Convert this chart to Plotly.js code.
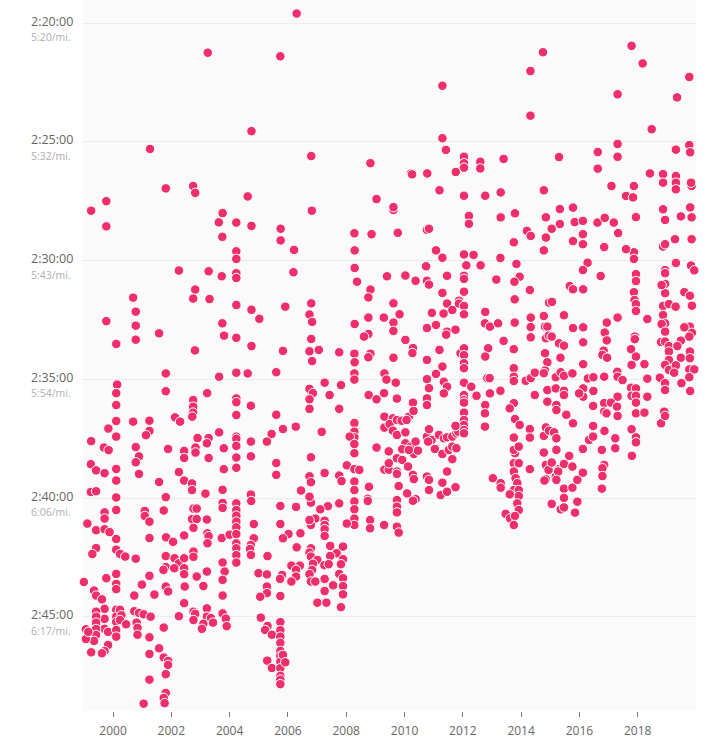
<!DOCTYPE html>
<html>
<head>
<meta charset="utf-8">
<script src="https://cdn.plot.ly/plotly-3.0.1.min.js"></script>
<style>
  html, body { margin: 0; padding: 0; background: #fff; }
  #chart { width: 711px; height: 741px; }
</style>
</head>
<body>
<div id="chart"></div>
<script>
// each race: [date as decimal year, finish time in minutes past 2:00:00]
var races1999to2004 = [
  [2003.25,21.25],[2001.27,25.3],
  [2001.81,26.96],[2002.75,26.86],[2002.82,27.15],[1999.77,27.5],[1999.25,27.9],[1999.77,28.56],[2003.76,28.0],[2003.63,28.39],[2004.23,28.4],[2003.75,29.0],[2004.23,29.61],[2004.23,29.93],
  [2002.26,30.42],[2003.28,30.45],[2003.73,30.66],[2004.23,30.53],[2004.23,30.73],[2002.82,31.22],[2002.75,31.6],[2003.31,31.62],[2000.69,31.56],[2000.78,32.15],[2000.78,32.74],[2000.78,33.33],[1999.77,32.55],[2000.11,33.51],[2001.58,33.06],[2002.81,33.78],[2004.23,31.87],[2003.75,32.64],[2003.81,33.16],[2004.23,33.25],
  [2001.81,34.75],[2001.81,35.5],[2003.64,34.89],[2004.23,34.72],[2000.14,35.22],[2000.11,35.58],[2000.11,36.08],[2000.11,36.75],[2000.11,37.41],[1999.84,37.07],[2000.69,36.78],[2001.25,36.74],[2001.25,37.17],[2001.13,37.35],[2002.13,36.6],[2002.3,36.78],[2002.75,35.87],[2002.75,36.15],[2002.75,36.4],[2002.72,36.57],[2003.23,35.58],[2003.64,37.23],[2004.23,35.8],[2004.23,35.96],[2004.23,36.5],[2002.9,37.47],[2003.28,37.47],[1999.25,37.6],[2004.23,37.41],[2004.23,37.5],
  [1999.0,43.53],[1999.12,41.07],[1999.24,38.57],[1999.42,38.83],[1999.24,39.74],[1999.42,39.71],[1999.71,38.95],[1999.71,40.6],[1999.71,40.86],[1999.42,41.35],[1999.71,41.31],[1999.88,41.43],[1999.42,42.1],[1999.29,42.35],[1999.69,37.87],[1999.85,37.98],
  [2000.11,38.77],[2000.11,39.26],[2000.11,39.97],[2000.11,40.5],[2000.11,41.72],[2000.11,42.17],[2000.24,42.35],[2000.42,42.46],[2000.78,42.55],[2000.11,43.19],[2000.11,43.61],[2000.11,43.83],[1999.77,43.37],[1999.35,43.89],[1999.42,44.1],[1999.62,44.26],
  [1999.71,44.66],[1999.71,45.08],[1999.71,45.5],[1999.83,45.63],[1999.83,46.18],[1999.71,46.44],[1999.62,46.53],[1999.42,44.78],[1999.42,44.99],[1999.42,45.24],[1999.42,45.51],[1999.42,45.76],[1999.35,46.01],[1999.25,46.49],[1999.07,45.52],[1999.07,45.93],[1999.15,45.63],
  [2000.11,44.7],[2000.11,44.99],[2000.11,45.21],[2000.11,45.55],[2000.11,45.83],[2000.24,44.7],[2000.29,44.93],[2000.24,45.13],[2000.45,45.31],
  [2000.78,37.85],[2000.89,38.24],[2000.78,38.49],[2000.89,38.98],[2001.09,40.54],[2001.09,40.75],[2001.25,40.99],[2001.25,41.68],[2001.58,39.32],[2001.81,39.96],[2001.74,40.52],[2001.25,43.27],[2000.99,43.64],[2000.73,44.1],[2001.42,44.06],[2001.81,43.72],[2001.89,43.93],
  [2000.73,44.76],[2000.89,44.83],[2001.05,44.89],[2001.29,44.99],[2000.81,45.24],[2000.84,45.46],[2000.84,45.75],[2001.25,45.86],[2001.74,45.45],[2001.25,46.56],[2001.58,46.32],[2001.74,46.71],[2001.89,46.85],[2001.89,47.02],[2001.81,47.41],[2001.25,47.64],[2001.81,48.2],[2001.74,48.41],[2001.77,48.63],[2001.05,48.65],
  [2001.89,37.93],[2002.26,38.9],[2002.44,38.01],[2002.44,38.31],[2002.83,37.87],[2003.22,37.69],[2002.83,38.08],[2003.28,38.31],[2002.44,39.26],[2002.71,39.38],[2002.71,39.66],[2003.17,39.81],[2002.76,40.44],[2002.87,40.44],[2002.71,40.88],[2002.87,40.88],[2002.76,41.25],[2003.22,40.9],
  [2002.44,41.57],[2001.82,41.65],[2002.06,41.84],[2001.81,42.44],[2002.11,42.53],[2002.26,42.74],[2002.44,42.53],[2001.81,42.9],[2001.73,43.02],[2002.1,42.95],[2002.44,42.95],[2002.44,43.2],[2002.76,42.25],[2002.76,42.47],[2003.24,41.48],[2003.28,41.6],[2003.24,41.9],[2003.73,41.68],[2004.0,41.54],
  [2004.23,40.22],[2004.23,40.5],[2004.23,40.74],[2004.23,40.99],[2004.23,41.23],[2004.23,41.51],[2004.23,41.9],[2004.23,42.11],[2004.23,42.4],[2004.23,42.71],[2004.23,37.8],[2004.23,38.29],[2004.23,38.72],
  [2003.8,37.9],[2003.8,38.78],[2003.76,39.65],[2003.76,40.2],[2003.76,40.41],[2003.76,42.71],[2003.83,43.09],[2003.76,43.44],[2003.76,44.1],[2002.87,43.3],[2003.1,43.7],[2003.22,43.09],[2002.46,43.72],[2002.44,44.42],[2002.26,44.97],
  [2002.76,44.78],[2002.82,44.87],[2002.76,45.13],[2003.22,44.64],[2003.22,44.99],[2003.36,45.05],[2003.43,45.24],[2003.1,45.29],[2003.05,45.5],[2003.76,44.85],[2003.87,45.07],[2003.9,45.39]
];

var races2004to2009 = [
  [2005.74,21.4],[2006.3,19.6],[2004.75,24.55],[2006.8,25.6],[2008.83,25.9],
  [2004.62,27.3],[2004.75,28.54],[2005.75,28.66],[2005.75,29.15],[2006.82,27.9],[2006.21,29.55],[2008.28,28.85],[2008.29,29.57],[2004.75,32.07],[2005.02,32.45],[2004.75,33.6],[2005.83,33.8],[2005.91,31.94],[2006.8,31.8],[2006.74,32.27],[2006.83,32.58],[2006.8,33.3],[2006.74,33.82],[2007.06,33.76],[2006.83,34.23],[2007.76,33.86],[2008.28,33.92],[2008.29,34.28],[2008.29,32.67],[2008.29,30.31],[2008.37,30.89],[2006.19,30.49],
  [2009.04,27.41],[2009.62,27.87],[2009.62,27.75],[2009.77,28.83],[2008.87,28.89],[2008.83,31.22],[2008.76,31.55],[2009.4,30.66],[2008.76,32.4],[2009.29,32.4],[2008.76,33.09],[2008.61,33.2],[2009.62,31.8],[2009.62,32.61],[2009.62,32.96],[2008.83,33.92],[2008.76,34.07],[2009.62,34.09],
  [2004.62,34.75],[2005.6,34.7],[2008.28,34.75],[2008.28,35.01],[2009.31,34.75],[2009.38,35.01],[2009.7,35.14],[2007.26,35.14],[2006.74,35.4],[2006.86,35.58],[2006.74,35.84],[2007.43,35.66],[2007.82,35.24],[2004.73,36.11],[2006.74,36.24],[2007.76,36.24],[2008.77,35.66],[2009.04,35.84],[2009.3,35.58],
  [2005.6,36.49],[2006.27,36.99],[2005.83,37.09],[2005.44,37.3],[2007.16,37.21],[2008.28,36.84],[2008.28,37.2],[2008.28,37.44],[2008.12,37.41],[2009.31,36.57],[2009.6,36.64],[2009.31,37.03],[2009.49,36.88],[2009.6,37.16],
  [2004.73,37.62],[2004.73,38.24],[2005.28,37.62],[2005.6,38.52],[2005.6,39.02],[2006.79,38.28],[2007.26,38.94],[2006.74,39.08],[2006.79,39.33],[2006.45,39.68],[2007.76,39.05],[2007.84,39.28],[2008.02,38.62],[2008.28,37.72],[2008.28,38.11],[2008.28,38.78],[2008.45,38.81],[2008.28,39.3],[2008.28,39.66],[2008.78,39.52],
  [2009.04,37.87],[2009.46,38.03],[2009.31,38.8],[2009.46,38.8],[2009.46,38.53],[2008.74,40.03],[2008.74,40.12],[2008.28,40.14],[2008.28,40.47],[2008.28,40.86],[2008.28,41.13],[2008.02,41.07],[2008.82,40.92],[2008.82,41.27],[2009.3,41.13],
  [2007.76,40.22],[2007.37,40.34],[2007.11,40.47],[2006.79,40.19],[2006.74,39.94],[2006.28,40.37],[2005.74,40.33],[2004.73,39.85],[2004.74,40.12],[2006.94,40.86],[2006.79,41.13],[2006.74,40.92],[2007.26,40.95],[2007.26,41.13],[2007.26,41.31],[2007.26,41.59],
  [2004.83,41.09],[2005.74,41.09],[2006.43,41.48],[2006.02,41.51],[2005.83,41.69],[2004.83,41.69],[2004.73,41.97],[2004.7,42.14],[2004.73,42.39],[2005.3,42.44],[2006.3,42.07],[2006.79,42.11],[2006.74,42.29],[2006.79,42.46],
  [2007.45,42.01],[2007.89,42.04],[2007.67,42.32],[2007.45,42.43],[2007.89,42.57],[2007.82,42.78],[2007.01,42.6],[2006.86,42.76],[2006.83,43.02],[2007.25,42.82],[2007.4,42.78],[2006.41,42.84],[2006.12,42.84],[2006.28,43.02],[2006.28,43.3],[2006.12,43.51],[2005.8,43.23],[2005.73,43.4],
  [2006.74,43.2],[2006.79,43.51],[2006.94,43.51],[2007.26,43.4],[2007.26,43.91],[2007.55,43.67],[2007.76,43.19],[2007.89,43.37],[2007.89,43.7],[2007.89,44.05],[2007.01,44.4],[2007.32,44.4],[2007.82,44.59],
  [2004.99,43.16],[2005.28,43.21],[2005.28,43.72],[2005.28,44.0],[2005.05,44.15],[2005.74,44.12],[2005.07,45.03],[2005.3,45.38],[2005.22,45.55],[2005.45,45.75],[2005.29,46.84],[2005.45,47.15],
  [2005.74,45.22],[2005.74,45.56],[2005.74,45.83],[2005.74,46.09],[2005.74,46.43],[2005.74,46.64],[2005.74,46.88],[2005.74,47.16],[2005.74,47.48],[2005.74,47.64],[2005.74,47.83],[2005.83,46.6],[2005.91,46.91]
];

var races2009to2014 = [
  [2011.3,22.64],[2014.32,22.02],[2014.75,21.23],[2014.32,23.9],[2011.3,24.85],[2011.42,25.34],[2012.04,25.63],[2012.04,25.9],[2012.04,26.09],[2012.6,25.84],[2012.6,26.12],[2013.4,25.72],[2011.76,26.27],[2010.22,26.33],[2010.26,26.37],[2010.78,26.33],
  [2011.2,27.04],[2012.04,27.27],[2012.77,27.27],[2013.3,27.13],[2014.78,27.04],[2012.21,28.12],[2012.21,28.45],[2013.3,28.18],[2013.79,28.01],[2014.85,28.18],[2013.75,29.23],[2014.2,28.75],[2014.33,28.96],[2014.85,29.03],[2014.78,29.57],
  [2011.08,29.57],[2011.3,29.88],[2012.04,29.74],[2012.37,29.76],[2010.74,30.24],[2012.61,30.2],[2013.29,29.89],[2013.84,30.14],[2010.77,28.71],[2010.84,28.66],
  [2012.12,30.2],[2010.03,30.63],[2010.38,30.85],[2010.77,30.85],[2010.84,31.01],[2011.46,30.64],[2012.04,30.64],[2012.04,30.77],[2013.15,30.8],[2013.95,30.68],[2013.77,30.89],[2014.3,31.24],[2014.96,31.77],[2011.3,31.36],[2012.04,31.31],
  [2009.83,32.26],[2011.46,31.81],[2011.87,31.69],[2011.87,31.81],[2011.64,32.08],[2012.04,31.91],[2012.04,32.26],[2011.34,32.23],[2010.94,32.2],[2012.77,32.16],[2013.78,31.63],[2012.76,32.64],[2012.93,32.78],[2013.21,32.64],[2013.78,32.61],
  [2011.08,32.71],[2010.77,32.84],[2011.46,32.99],[2011.43,33.12],[2011.75,32.91],[2014.33,32.4],[2014.33,32.8],[2014.33,33.23],[2014.78,32.33],[2014.82,32.78],[2014.9,32.78],[2014.85,33.27],[2014.95,33.16],
  [2010.03,33.34],[2010.29,33.68],[2010.27,33.89],[2011.2,33.76],[2011.92,33.9],[2012.04,33.69],[2012.04,33.98],[2012.04,34.32],[2012.04,34.53],[2012.87,33.69],[2012.77,34.04],[2013.4,33.38],[2013.75,33.73],[2010.77,34.18],[2011.3,34.46],[2011.08,34.77],
  [2013.75,34.53],[2013.75,34.89],[2013.75,35.07],[2014.16,35.06],[2014.33,34.95],[2014.47,34.72],[2014.82,33.9],[2014.9,34.28],[2014.82,34.63],[2014.78,34.74],
  [2009.74,35.81],[2010.29,35.98],[2010.77,34.99],[2010.84,35.37],[2010.77,35.8],[2010.77,36.08],[2011.35,35.1],[2011.46,35.31],[2011.35,35.59],[2012.04,35.14],[2012.04,35.66],[2012.04,35.87],[2012.04,35.98],[2012.29,35.31],[2012.47,35.69],[2012.84,34.95],[2012.92,34.95],[2012.93,35.59],[2012.77,36.08],[2013.29,35.48],[2013.75,36.0],[2014.47,35.66],[2014.9,35.45],[2014.9,35.94],
  [2009.74,36.71],[2009.9,36.74],[2010.15,36.57],[2010.31,36.33],[2010.07,36.71],[2009.74,37.34],[2010.03,37.23],[2010.03,37.69],[2009.92,37.94],[2010.21,37.83],[2010.38,37.62],[2010.32,38.14],[2010.46,38.0],[2010.15,37.97],[2009.74,38.32],[2009.92,38.39],[2010.12,38.67],
  [2009.74,38.88],[2009.74,38.98],[2010.29,39.02],[2010.32,39.2],[2009.8,39.49],[2010.09,39.8],[2010.38,40.04],[2010.29,40.11],[2009.74,40.08],[2009.74,40.36],[2009.74,40.6],[2009.74,41.2],[2009.8,41.45],
  [2010.77,37.41],[2010.93,37.55],[2010.81,37.62],[2010.84,37.1],[2011.18,37.34],[2011.35,37.48],[2011.46,37.44],[2011.64,37.41],[2011.78,37.27],[2011.84,37.2],[2012.04,36.4],[2012.04,36.71],[2012.04,36.92],[2012.04,37.13],[2012.04,37.27],[2011.75,36.96],
  [2011.04,37.93],[2011.3,38.14],[2011.52,37.97],[2011.64,37.83],[2011.78,37.9],[2011.46,38.88],[2011.64,38.36],[2010.77,39.09],[2010.84,39.23],[2011.3,39.35],[2010.84,39.66],[2011.24,39.87],[2011.46,39.73],[2011.75,39.54],
  [2012.76,36.43],[2012.76,36.99],[2013.03,39.16],[2013.3,39.37],[2013.3,39.56],[2013.61,36.22],[2013.79,36.67],[2013.95,36.92],[2013.75,37.45],[2013.79,38.11],[2013.75,37.97],[2013.92,37.83],[2013.75,38.53],[2013.92,38.53],[2013.75,38.88],[2013.81,39.16],[2013.87,39.37],
  [2013.75,39.66],[2013.92,39.66],[2013.92,39.91],[2013.61,39.84],[2013.87,40.22],[2013.92,40.5],[2013.47,40.66],[2013.62,40.85],[2013.79,40.75],[2013.75,41.13],
  [2014.3,37.09],[2014.3,37.45],[2014.3,38.78],[2014.78,37.38],[2014.85,37.02],[2014.96,37.16],[2014.78,38.08],[2014.85,38.6],[2014.85,39.2],[2014.8,39.26],[2014.94,38.81]
];

var races2015to2019 = [
  [2017.79,20.96],[2018.17,21.7],[2017.31,23.0],[2019.35,23.13],[2019.77,22.27],[2018.48,24.47],[2017.31,25.09],[2017.31,25.63],[2016.63,25.43],[2016.63,26.13],[2019.31,25.33],[2019.77,25.14],[2019.8,25.44],[2015.3,25.64],
  [2015.33,27.83],[2015.33,28.46],[2015.05,28.66],[2015.78,27.77],[2015.84,28.38],[2016.12,28.33],[2016.12,28.89],[2016.12,29.31],[2015.78,29.18],[2016.62,28.4],[2016.87,28.2],[2017.18,28.4],[2017.33,28.84],[2016.85,29.43],
  [2017.1,26.86],[2017.87,26.86],[2017.6,27.28],[2017.84,27.34],[2017.94,28.17],[2018.42,26.33],[2018.87,26.36],[2018.87,26.72],[2019.31,26.44],[2019.31,26.72],[2019.31,27.0],[2019.85,26.86],[2019.83,26.72],
  [2018.87,27.84],[2018.94,28.29],[2019.48,28.14],[2019.8,27.76],[2019.85,28.18],[2019.28,29.1],[2019.85,29.1],[2018.87,29.41],[2018.94,29.31],[2017.87,29.65],[2017.87,29.93],[2017.6,29.52],[2019.31,30.1],[2019.83,30.21],[2019.94,30.41],
  [2016.28,30.09],[2016.12,30.4],[2016.73,30.65],[2017.94,30.57],[2017.94,30.86],[2017.87,31.33],[2017.89,31.66],[2017.94,31.83],[2017.94,32.12],[2018.33,32.46],[2017.31,32.4],[2016.94,32.61],[2016.87,33.03],[2016.94,33.36],
  [2015.67,31.07],[2015.78,31.21],[2016.13,31.21],[2015.06,31.74],[2015.47,32.3],[2015.05,33.2],[2015.78,32.84],[2016.13,32.81],[2016.13,33.44],[2015.3,33.48],[2015.47,33.58],[2015.35,34.09],
  [2015.19,34.91],[2015.36,34.7],[2015.47,34.85],[2015.76,34.75],[2016.13,34.36],[2016.29,34.96],[2016.48,34.91],[2016.85,34.89],[2017.3,34.68],[2017.31,34.89],[2017.48,35.03],[2016.83,33.79],[2016.79,33.97],[2016.95,34.09],
  [2017.77,33.73],[2017.94,34.04],[2017.79,34.39],[2018.23,34.36],[2017.9,33.2],[2017.9,33.31],[2018.33,34.97],
  [2018.94,30.4],[2018.94,30.53],[2018.94,30.98],[2018.94,31.37],[2018.82,31.03],[2018.87,31.91],[2018.87,32.29],[2018.94,32.64],[2018.82,32.67],[2018.94,32.99],[2018.8,33.43],[2018.94,33.41],
  [2019.07,31.83],[2019.3,31.94],[2019.6,31.33],[2019.79,31.48],[2019.86,31.9],[2019.79,32.78],[2019.6,32.81],[2019.86,33.04],[2019.77,33.2],[2019.07,33.6],[2019.48,33.37],[2019.36,33.6],
  [2019.07,33.83],[2019.07,34.18],[2018.94,34.39],[2019.07,34.6],[2019.48,34.09],[2019.79,33.83],[2019.79,34.11],[2019.31,34.41],[2019.25,34.72],[2019.77,34.58],[2019.94,34.58],[2019.77,34.91],
  [2018.76,34.93],[2018.94,35.16],[2018.94,35.45],[2019.5,35.16],[2019.8,35.49],[2017.77,35.35],[2017.94,35.38],[2017.79,35.69],[2017.94,35.69],[2017.94,35.98],[2018.33,35.73],[2017.31,35.73],
  [2016.48,35.49],[2016.13,35.38],[2016.13,35.73],[2015.99,35.59],[2015.19,35.38],[2015.47,35.48],[2015.47,35.66],
  [2015.13,37.23],[2015.21,36.08],[2015.21,36.29],[2015.55,36.49],[2015.21,37.48],[2015.21,37.97],[2015.05,38.5],[2015.3,38.78],[2015.47,38.56],[2015.76,38.67],[2015.19,39.09],[2015.27,38.88],[2015.21,39.23],[2015.65,38.22],[2015.78,36.85],
  [2015.47,39.6],[2015.76,39.56],[2015.93,39.23],[2016.12,38.93],[2016.12,37.93],[2016.33,37.55],[2016.47,37.41],[2016.47,36.96],[2016.47,36.12],[2016.85,36.0],[2017.08,35.98],[2017.29,36.15],[2016.85,36.36],[2016.93,36.43],[2017.31,36.54],
  [2016.86,37.17],[2016.77,37.97],[2017.23,37.48],[2017.23,37.9],[2016.85,38.6],[2016.79,38.74],[2016.79,39.07],[2016.77,39.6],[2017.94,36.43],[2018.23,36.4],[2017.79,37.1],[2017.94,37.44],[2017.94,37.65],[2017.8,38.22],
  [2018.8,36.85],[2018.91,36.36],[2018.94,36.54],[2015.05,40.24],[2015.36,40.47],[2015.47,40.39],[2015.47,39.99],[2015.85,40.61],[2015.93,40.15]
];

// axis ticks
var yearTicks = [2000, 2002, 2004, 2006, 2008, 2010, 2012, 2014, 2016, 2018];
var timeTicks = [20, 25, 30, 35, 40, 45];
var timeLabels = ['2:20:00', '2:25:00', '2:30:00', '2:35:00', '2:40:00', '2:45:00'];
var paceLabels = ['5:20/mi.', '5:32/mi.', '5:43/mi.', '5:54/mi.', '6:06/mi.', '6:17/mi.'];

var allRaces = races1999to2004.concat(races2004to2009, races2009to2014, races2015to2019);

var trace = {
  x: allRaces.map(function (r) { return r[0]; }),
  y: allRaces.map(function (r) { return r[1]; }),
  type: 'scatter',
  mode: 'markers',
  cliponaxis: false,
  hoverinfo: 'skip',
  marker: {
    size: 9.5,
    color: '#ee2f6b',
    line: { color: '#ffffff', width: 1 }
  }
};

var labelFont = '"Open Sans", "DejaVu Sans", sans-serif';
var annotations = [];
timeTicks.forEach(function (t, i) {
  annotations.push({
    xref: 'paper', yref: 'y', x: -0.088, y: t,
    xanchor: 'left', yanchor: 'middle', yshift: 2,
    text: timeLabels[i], showarrow: false,
    font: { family: labelFont, size: 12.5, color: '#666' }
  });
  annotations.push({
    xref: 'paper', yref: 'y', x: -0.088, y: t,
    xanchor: 'left', yanchor: 'middle', yshift: -14,
    text: paceLabels[i], showarrow: false,
    font: { family: labelFont, size: 10.5, color: '#b0b0b0' }
  });
});

var layout = {
  width: 711,
  height: 741,
  margin: { l: 83, r: 15, t: 0, b: 30, pad: 0 },
  paper_bgcolor: '#ffffff',
  plot_bgcolor: '#fafafa',
  showlegend: false,
  xaxis: {
    range: [1998.97, 2020.0],
    tickvals: yearTicks,
    ticktext: yearTicks.map(String),
    ticks: 'outside',
    ticklen: 5,
    tickwidth: 1,
    tickcolor: '#777',
    ticklabelstandoff: 4,
    showgrid: false,
    zeroline: false,
    showline: false,
    tickfont: { family: labelFont, size: 12, color: '#666' }
  },
  yaxis: {
    range: [48.96, 19.03],
    tickvals: timeTicks,
    showticklabels: false,
    ticks: '',
    showgrid: true,
    gridcolor: '#ebebeb',
    gridwidth: 1,
    zeroline: false,
    showline: false
  },
  annotations: annotations
};

Plotly.newPlot('chart', [trace], layout, { displayModeBar: false, staticPlot: true });
</script>
</body>
</html>
